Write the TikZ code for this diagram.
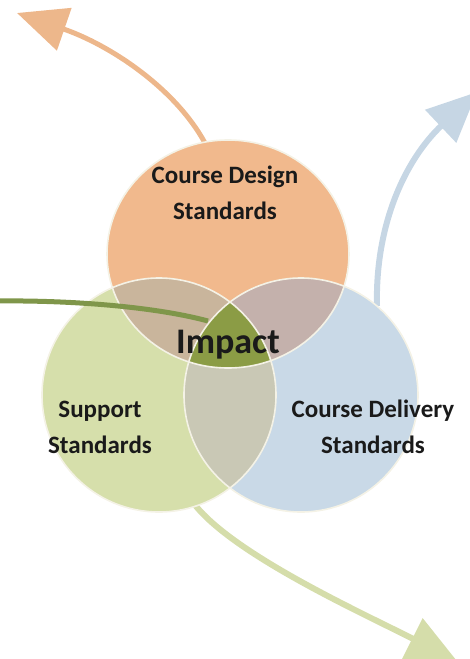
\documentclass[tikz,border=0pt]{standalone}
\usepackage{fontspec}
\setmainfont{Carlito}
\usetikzlibrary{arrows.meta}
\definecolor{cOr}{HTML}{F1B98D}
\definecolor{cGr}{HTML}{D6DFAB}
\definecolor{cBl}{HTML}{C9D9E7}
\definecolor{cOG}{HTML}{C9B59C}
\definecolor{cOB}{HTML}{C4B1AC}
\definecolor{cGB}{HTML}{C9C8B5}
\definecolor{cCt}{HTML}{8B9C45}
\definecolor{cLine}{HTML}{F4F2E6}
\definecolor{aOr}{HTML}{EDB78B}
\definecolor{aBl}{HTML}{C6D6E4}
\definecolor{aGr}{HTML}{D5DDAA}
\definecolor{aDk}{HTML}{7F964A}
\definecolor{txt}{HTML}{1A1A1A}
\begin{document}
\begin{tikzpicture}[x=1pt,y=-1pt,
  lbl/.style={font=\fontsize{25}{36}\selectfont\bfseries, text=txt, align=center, inner sep=0pt},
  bigarrow/.style={line width=#1, -{Triangle[length=50pt,width=44pt]}},
  outl/.style={draw=cLine, line width=1.6pt}
]
\useasboundingbox (0,0) rectangle (470,659);
\clip (0,0) rectangle (470,659);

% centres
\coordinate (cO) at (228,254);
\coordinate (cG) at (159,395);
\coordinate (cB) at (301,395);

% arrow end points
\coordinate (oStart) at (205,143);
\coordinate (oTip) at (17,13);
\coordinate (bStart) at (377,306);
\coordinate (bTip) at (477,92);
\coordinate (gStart) at (195,505);
\coordinate (gTip) at (457,661);
\coordinate (dStart) at (-5,301);
\coordinate (dEnd) at (208,321);

% arrows beneath the circles
\draw[aOr, bigarrow=5pt] (oStart) .. controls (175,88) and (110,45) .. (oTip);
\draw[aBl, bigarrow=6pt] (bStart) .. controls (375,225) and (405,160) .. (bTip);
\draw[aGr, bigarrow=6pt] (gStart) .. controls (235,555) and (360,612) .. (gTip);

% circles
\fill[cOr] (cO) ellipse [x radius=121, y radius=114];
\fill[cGr] (cG) circle [radius=117];
\fill[cBl] (cB) circle [radius=117];
\begin{scope}
  \clip (cG) circle [radius=117];
  \fill[cGB] (cB) circle [radius=117];
\end{scope}
\begin{scope}
  \clip (cO) ellipse [x radius=121, y radius=114];
  \fill[cOG] (cG) circle [radius=117];
  \fill[cOB] (cB) circle [radius=117];
  \clip (cG) circle [radius=117];
  \fill[cCt] (cB) circle [radius=117];
\end{scope}
\draw[outl] (cO) ellipse [x radius=121, y radius=114];
\draw[outl] (cG) circle [radius=117];
\draw[outl] (cB) circle [radius=117];

% dark green line
\draw[aDk, line width=5pt] (dStart) .. controls (80,300) and (160,308) .. (dEnd);

% labels
\node[lbl] (tDesign) at (225,193) {Course Design\\Standards};
\node[lbl] (tSupport) at (100,427) {Support\\Standards};
\node[lbl] (tDelivery) at (373,427) {Course Delivery\\Standards};
\node[lbl, font=\fontsize{36}{40}\selectfont\bfseries, anchor=base] (tImpact) at (228,353) {Impact};
\end{tikzpicture}
\end{document}
